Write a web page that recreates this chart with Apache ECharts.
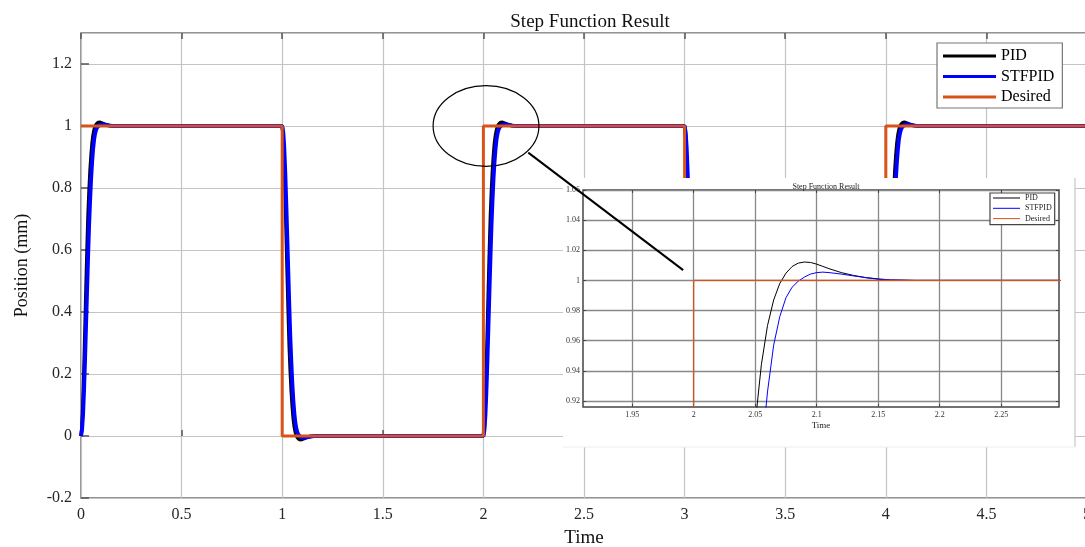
<!DOCTYPE html>
<html>
<head>
<meta charset="utf-8">
<script src="https://cdn.jsdelivr.net/npm/echarts@6/dist/echarts.min.js"></script>
<style>html,body{margin:0;padding:0;background:#fff}#c{width:1085px;height:547px}</style>
</head>
<body>
<div id="c"></div>
<script>
// ---- data ----
var seriesNames = ['PID', 'STFPID', 'Desired'];
// time after each set-point change (s)
var stepT = [0, 0.005, 0.01, 0.015, 0.02, 0.025, 0.03, 0.035, 0.04, 0.045, 0.05, 0.055, 0.06, 0.065, 0.07, 0.075, 0.08, 0.085, 0.09, 0.095, 0.1, 0.105, 0.11, 0.12, 0.13, 0.14, 0.15, 0.16, 0.18, 0.2];
// normalised step response of each controller
var pidStep = [0, 0.03, 0.11, 0.22, 0.35, 0.48, 0.6, 0.71, 0.79, 0.855, 0.905, 0.944, 0.970, 0.987, 0.998, 1.0048, 1.0092, 1.0115, 1.0122, 1.0119, 1.0108, 1.0093, 1.0078, 1.0052, 1.0033, 1.0018, 1.0008, 1.0002, 1.0, 1.0];
var stfStep = [0, 0.02, 0.07, 0.15, 0.25, 0.36, 0.47, 0.58, 0.68, 0.76, 0.83, 0.884, 0.926, 0.957, 0.976, 0.9885, 0.9955, 0.9995, 1.0022, 1.0042, 1.0052, 1.0055, 1.0052, 1.0042, 1.003, 1.0019, 1.001, 1.0004, 1.0, 1.0];
// set-point changes
var changeTimes = [0, 1, 2, 3, 4];
var changeFrom = [0, 1, 0, 1, 0];
var changeTo = [1, 0, 1, 0, 1];
var endTime = 5;
// desired signal
var desiredT = [0, 1, 1, 2, 2, 3, 3, 4, 4, 5];
var desiredY = [1, 1, 0, 0, 1, 1, 0, 0, 1, 1];
// ticks
var insetXTicks = [1.95, 2, 2.05, 2.1, 2.15, 2.2, 2.25];
var insetYTicks = [0.92, 0.94, 0.96, 0.98, 1, 1.02, 1.04, 1.06];

function buildResponse(shape) {
  var out = [];
  for (var i = 0; i < changeTimes.length; i++) {
    for (var j = 0; j < stepT.length; j++) {
      out.push([+(changeTimes[i] + stepT[j]).toFixed(4), changeFrom[i] + (changeTo[i] - changeFrom[i]) * shape[j]]);
    }
  }
  out.push([endTime, changeTo[changeTo.length - 1]]);
  return out;
}
var pidData = buildResponse(pidStep);
var stfData = buildResponse(stfStep);
var desData = desiredT.map(function (t, i) { return [t, desiredY[i]]; });

var SERIF = 'Liberation Serif';
var chart = echarts.init(document.getElementById('c'), null, {renderer: 'canvas'});

function insetLabelFmt(v) { return String(+v.toFixed(2)); }

var option = {
  animation: false,
  backgroundColor: '#fff',
  title: [
    {text: 'Step Function Result', left: 585, top: 8, textAlign: 'center',
     textStyle: {fontFamily: SERIF, fontSize: 19, fontWeight: 'normal', color: '#111'}},
    {text: 'Step Function Result', left: 821, top: 178, textAlign: 'center', z: 8,
     textStyle: {fontFamily: SERIF, fontSize: 8, fontWeight: 'normal', color: '#222'}}
  ],
  legend: [
    {data: seriesNames, orient: 'vertical', left: 937, top: 43, z: 6,
     icon: 'rect', padding: [5, 8, 3, 6], itemGap: 4.5, itemWidth: 53, itemHeight: 3,
     backgroundColor: '#fff', borderColor: '#777', borderWidth: 1.2, selectedMode: false,
     textStyle: {fontFamily: SERIF, fontSize: 16, lineHeight: 14, color: '#000'}},
    {data: seriesNames, orient: 'vertical', left: 990, top: 193, z: 8,
     icon: 'rect', padding: [1, 3, 2, 3], itemGap: 2.3, itemWidth: 27, itemHeight: 1,
     backgroundColor: '#fff', borderColor: '#444', borderWidth: 1.2, selectedMode: false,
     textStyle: {fontFamily: SERIF, fontSize: 8, lineHeight: 7, color: '#222'}}
  ],
  grid: [
    {left: 81, top: 33, right: -2, bottom: 49, outerBoundsMode: 'none', containLabel: false,
     show: true, borderColor: '#707070', borderWidth: 1.5},
    {left: 583, top: 190, right: 26, bottom: 140, outerBoundsMode: 'none', containLabel: false,
     show: true, borderColor: '#444', borderWidth: 1.5, backgroundColor: '#fff', z: 6}
  ],
  xAxis: [
    {type: 'value', gridIndex: 0, min: 0, max: 5, interval: 0.5,
     name: 'Time', nameLocation: 'middle', nameGap: 31,
     nameTextStyle: {fontFamily: SERIF, fontSize: 19, color: '#111'},
     axisLine: {show: false},
     axisTick: {inside: true, length: 6, lineStyle: {color: '#555', width: 1.5}},
     axisLabel: {margin: 9, fontFamily: SERIF, fontSize: 16, color: '#262626',
       formatter: function (v) { return String(v); }},
     splitLine: {lineStyle: {color: '#c4c4c4', width: 1.2}}},
    {type: 'value', gridIndex: 0, position: 'top', min: 0, max: 5, interval: 0.5,
     axisLine: {show: false}, axisLabel: {show: false}, splitLine: {show: false},
     axisTick: {inside: true, length: 6, lineStyle: {color: '#555', width: 1.5}}},
    {type: 'value', gridIndex: 1, min: 1.91, max: 2.297, z: 7,
     name: 'Time', nameLocation: 'middle', nameGap: 14,
     nameTextStyle: {fontFamily: SERIF, fontSize: 9, color: '#222'},
     axisLine: {show: false},
     axisTick: {inside: true, length: 3, customValues: insetXTicks, lineStyle: {color: '#444'}},
     axisLabel: {margin: 4, fontFamily: SERIF, fontSize: 8, color: '#333', customValues: insetXTicks,
       formatter: insetLabelFmt},
     splitLine: {lineStyle: {color: '#888', width: 1.3}}},
    {type: 'value', gridIndex: 1, position: 'top', min: 1.91, max: 2.297, z: 7,
     axisLine: {show: false}, axisLabel: {show: false}, splitLine: {show: false},
     axisTick: {inside: true, length: 3, customValues: insetXTicks, lineStyle: {color: '#444'}}}
  ],
  yAxis: [
    {type: 'value', gridIndex: 0, min: -0.2, max: 1.3, interval: 0.2,
     name: 'Position (mm)', nameLocation: 'middle', nameGap: 50,
     nameTextStyle: {fontFamily: SERIF, fontSize: 18, color: '#111'},
     axisLine: {show: false},
     axisTick: {inside: true, length: 8, lineStyle: {color: '#555', width: 1.5}},
     axisLabel: {margin: 9, fontFamily: SERIF, fontSize: 16, color: '#262626', showMaxLabel: false,
       formatter: function (v) { return String(+v.toFixed(1)); }},
     splitLine: {lineStyle: {color: '#c4c4c4', width: 1.2}}},
    {type: 'value', gridIndex: 1, min: 0.916, max: 1.06, z: 7,
     axisLine: {show: false},
     axisTick: {inside: true, length: 3, customValues: insetYTicks, lineStyle: {color: '#444'}},
     axisLabel: {margin: 3, fontFamily: SERIF, fontSize: 8, color: '#333', customValues: insetYTicks,
       formatter: insetLabelFmt},
     splitLine: {lineStyle: {color: '#888', width: 1.3}}},
    {type: 'value', gridIndex: 1, position: 'right', min: 0.916, max: 1.06, z: 7,
     axisLine: {show: false}, axisLabel: {show: false}, splitLine: {show: false},
     axisTick: {inside: true, length: 3, customValues: insetYTicks, lineStyle: {color: '#444'}}}
  ],
  series: [
    {name: 'PID', type: 'line', xAxisIndex: 0, yAxisIndex: 0, data: pidData, symbol: 'none',
     lineStyle: {color: '#000', width: 3.5}, itemStyle: {color: '#000'}, z: 2},
    {name: 'STFPID', type: 'line', xAxisIndex: 0, yAxisIndex: 0, data: stfData, symbol: 'none',
     lineStyle: {color: '#0000ff', width: 4}, itemStyle: {color: '#0000ff'}, z: 2},
    {name: 'Desired', type: 'line', xAxisIndex: 0, yAxisIndex: 0, data: desData, symbol: 'none',
     lineStyle: {color: '#d95319', width: 3}, itemStyle: {color: '#d95319'}, z: 3},
    {name: 'PID', type: 'line', xAxisIndex: 2, yAxisIndex: 1, data: pidData, symbol: 'none', clip: true,
     lineStyle: {color: '#000', width: 1}, itemStyle: {color: '#000'}, z: 7},
    {name: 'STFPID', type: 'line', xAxisIndex: 2, yAxisIndex: 1, data: stfData, symbol: 'none', clip: true,
     lineStyle: {color: '#0000ff', width: 1}, itemStyle: {color: '#0000ff'}, z: 7},
    {name: 'Desired', type: 'line', xAxisIndex: 2, yAxisIndex: 1, data: desData, symbol: 'none', clip: true,
     lineStyle: {color: '#d95319', width: 1.2}, itemStyle: {color: '#d95319'}, z: 7}
  ]
};
chart.setOption(option);

// annotation: zoom circle and pointer line (positions given in main-plot data units)
var zoomCenter = [2.013, 1.0];
var zoomRadius = [0.263, 0.13];
var pointerFrom = [2.223, 0.914];
var pointerTo = [2.993, 0.535];
function px(p) { return chart.convertToPixel({gridIndex: 0}, p); }
var c0 = px(zoomCenter);
var cx1 = px([zoomCenter[0] + zoomRadius[0], zoomCenter[1] - zoomRadius[1]]);
var pA = px(pointerFrom), pB = px(pointerTo);
chart.setOption({
  graphic: [
    {type: 'rect', z: 5, silent: true,
     shape: {x: 563, y: 178, width: 512, height: 269},
     style: {fill: '#fff', stroke: null}},
    {type: 'line', z: 5, silent: true,
     shape: {x1: 1075, y1: 178, x2: 1075, y2: 447},
     style: {stroke: '#bbb', lineWidth: 1}},
    {type: 'line', z: 5, silent: true,
     shape: {x1: 563, y1: 447, x2: 1075, y2: 447},
     style: {stroke: '#eee', lineWidth: 1}},
    {type: 'ellipse', z: 20, silent: true,
     shape: {cx: c0[0], cy: c0[1], rx: cx1[0] - c0[0], ry: cx1[1] - c0[1]},
     style: {fill: null, stroke: '#000', lineWidth: 1.2}},
    {type: 'line', z: 20, silent: true,
     shape: {x1: pA[0], y1: pA[1], x2: pB[0], y2: pB[1]},
     style: {stroke: '#000', lineWidth: 2}}
  ]
});
</script>
</body>
</html>
